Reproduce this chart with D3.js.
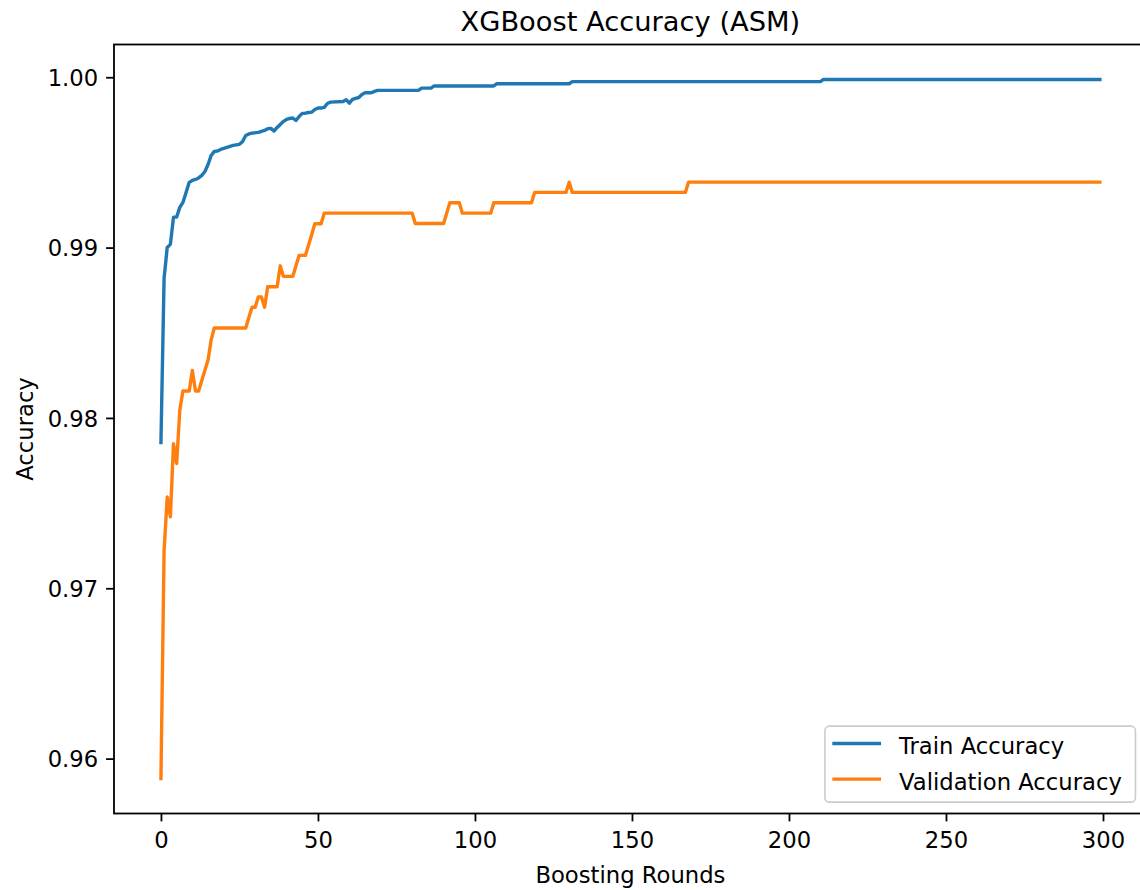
<!DOCTYPE html>
<html>
<head>
<meta charset="utf-8">
<script src="https://cdn.jsdelivr.net/npm/d3@7"></script>
<style>
	html, body { margin: 0; padding: 0; background: #fff; }
	svg { display: block; font-family: "DejaVu Sans", sans-serif; }
</style>
</head>
<body>
<div id="chart"></div>
<script>

// values (round, accuracy) — flat stretches kept by their end points
const trainRounds = [0,1,2,3,4,5,6,7,8,9,10,11,12,13,14,15,16,17,18,19,20,21,22,23,24,25,26,27,28,29,31,32,33,34,35,36,37,38,39,40,41,42,43,44,45,46,47,48,49,50,51,52,53,54,58,59,60,61,62,63,64,65,67,68,69,82,83,86,87,106,107,130,131,210,211,299];
const trainAccuracy = [0.97855,0.98820,0.99001,0.99019,0.99179,0.99179,0.99236,0.99265,0.99324,0.99383,0.99394,0.99400,0.99409,0.99424,0.99447,0.99488,0.99541,0.99565,0.99567,0.99576,0.99582,0.99588,0.99594,0.99600,0.99603,0.99606,0.99623,0.99658,0.99667,0.99672,0.99676,0.99682,0.99688,0.99698,0.99700,0.99684,0.99705,0.99723,0.99741,0.99752,0.99758,0.99761,0.99746,0.99770,0.99788,0.99789,0.99793,0.99795,0.99811,0.99819,0.99819,0.99823,0.99846,0.99854,0.99858,0.99868,0.99848,0.99870,0.99876,0.99881,0.99899,0.99909,0.99909,0.99917,0.99923,0.99923,0.99936,0.99936,0.99949,0.99949,0.99962,0.99962,0.99974,0.99974,0.99987,0.99987];

const valRounds = [0,1,2,3,4,5,6,7,9,10,11,12,13,14,15,16,17,27,28,29,30,31,32,33,34,37,38,39,42,43,44,46,47,48,49,51,52,80,81,90,91,92,95,96,105,106,118,119,129,130,131,167,168,299];
const valAccuracy = [0.95883,0.97220,0.97536,0.97419,0.97849,0.97732,0.98045,0.98158,0.98158,0.98279,0.98158,0.98158,0.98220,0.98280,0.98340,0.98460,0.98528,0.98528,0.98590,0.98650,0.98650,0.98710,0.98710,0.98650,0.98770,0.98770,0.98893,0.98831,0.98831,0.98893,0.98954,0.98954,0.99015,0.99076,0.99140,0.99140,0.99202,0.99202,0.99141,0.99141,0.99202,0.99263,0.99263,0.99202,0.99202,0.99263,0.99263,0.99324,0.99324,0.99384,0.99324,0.99324,0.99384,0.99384];

const numRounds = 300;
const xTicks = [0, 50, 100, 150, 200, 250, 300];
const yTicks = [0.96, 0.97, 0.98, 0.99, 1.00];

const seriesNames = ["Train Accuracy", "Validation Accuracy"];
const seriesColors = ["#1f77b4", "#ff7f0e"];

const TITLE = "XGBoost Accuracy (ASM)";
const X_LABEL = "Boosting Rounds";
const Y_LABEL = "Accuracy";

const WIDTH = 1140;
const HEIGHT = 890;
const FONT = 22.7;
const TICK_LEN = 7.9;
const TICK_PAD = 7.9;
const LINE_W = 3.4;

// axes box; the right spine falls just outside the picture, as in the original
const margin = { top: 44.5, left: 114, right: 1146.8, bottom: 813.5 };

const series = [
	{ name: seriesNames[0], color: seriesColors[0], data: trainRounds.map((r, i) => [r, trainAccuracy[i]]) },
	{ name: seriesNames[1], color: seriesColors[1], data: valRounds.map((r, i) => [r, valAccuracy[i]]) }
];

const svg = d3.select("#chart").append("svg")
	.attr("width", WIDTH)
	.attr("height", HEIGHT);

// matplotlib style 5% margins around the data
const xMax = numRounds - 1;
const allY = trainAccuracy.concat(valAccuracy);
const yMin = d3.min(allY), yMax = d3.max(allY);
const yPad = (yMax - yMin) * 0.05;

const x = d3.scaleLinear()
	.domain([-0.05 * xMax, xMax * 1.05])
	.range([margin.left, margin.right]);

const y = d3.scaleLinear()
	.domain([yMin - yPad, yMax + yPad])
	.range([margin.bottom, margin.top]);

const line = d3.line()
	.x(d => x(d[0]))
	.y(d => y(d[1]));

svg.append("g")
	.selectAll("path")
	.data(series)
	.enter()
	.append("path")
	.attr("d", d => line(d.data))
	.attr("fill", "none")
	.attr("stroke", d => d.color)
	.attr("stroke-width", LINE_W)
	.attr("stroke-linecap", "square")
	.attr("stroke-linejoin", "round");

// axes
const axisX = d3.axisBottom(x)
	.tickValues(xTicks)
	.tickSize(TICK_LEN)
	.tickPadding(TICK_PAD)
	.tickFormat(d3.format("d"));

const axisY = d3.axisLeft(y)
	.tickValues(yTicks)
	.tickSize(TICK_LEN)
	.tickPadding(TICK_PAD)
	.tickFormat(d3.format(".2f"));

const gx = svg.append("g")
	.attr("transform", `translate(0,${margin.bottom})`)
	.call(axisX);

const gy = svg.append("g")
	.attr("transform", `translate(${margin.left},0)`)
	.call(axisY);

[gx, gy].forEach(g => {
	g.select(".domain").remove();
	g.selectAll(".tick line").attr("stroke", "#000").attr("stroke-width", 1.8);
	g.selectAll(".tick text")
		.attr("fill", "#000")
		.style("font-size", FONT + "px")
		.style("font-family", "DejaVu Sans");
});
gx.selectAll(".tick text").attr("dy", null).attr("y", TICK_LEN + TICK_PAD + 18.7);
gy.selectAll(".tick text").attr("dy", "0.36em");

// frame
svg.append("rect")
	.attr("x", margin.left)
	.attr("y", margin.top)
	.attr("width", margin.right - margin.left)
	.attr("height", margin.bottom - margin.top)
	.attr("fill", "none")
	.attr("stroke", "#000")
	.attr("stroke-width", 1.8);

// texts
svg.append("text")
	.attr("x", (margin.left + margin.right) / 2)
	.attr("y", 31)
	.attr("text-anchor", "middle")
	.style("font-size", "27.3px")
	.text(TITLE);

svg.append("text")
	.attr("x", (margin.left + margin.right) / 2)
	.attr("y", 883)
	.attr("text-anchor", "middle")
	.style("font-size", FONT + "px")
	.text(X_LABEL);

svg.append("text")
	.attr("transform", `translate(33,${(margin.top + margin.bottom) / 2}) rotate(-90)`)
	.attr("text-anchor", "middle")
	.style("font-size", FONT + "px")
	.text(Y_LABEL);

// legend, lower right
const padL = 0.4 * FONT, padR = 0.6 * FONT, handleLen = 2 * FONT, textOffset = 65, axPad = 0.5 * FONT;
const legend = svg.append("g");
const frame = legend.append("rect");
const items = legend.selectAll("g.item")
	.data(series)
	.enter()
	.append("g")
	.attr("class", "item");

const labels = items.append("text")
	.style("font-size", FONT + "px")
	.attr("fill", "#000")
	.text(d => d.name);

let textW = d3.max(labels.nodes(), n => n.getComputedTextLength());
let boxW = padL + textOffset + textW + padR;
let boxH = 76;
let boxRight = margin.right - axPad;
let boxBottom = margin.bottom - axPad;
let boxLeft = boxRight - boxW;
let boxTop = boxBottom - boxH;

frame
	.attr("x", boxLeft)
	.attr("y", boxTop)
	.attr("width", boxW)
	.attr("height", boxH)
	.attr("rx", 4.5)
	.attr("fill", "#fff")
	.attr("fill-opacity", 0.8)
	.attr("stroke", "#cccccc")
	.attr("stroke-width", 1.6);

const rowY = [boxTop + 17.3, boxTop + 53];

items.append("line")
	.attr("x1", boxLeft + padL)
	.attr("x2", boxLeft + padL + handleLen)
	.attr("y1", (d, i) => rowY[i])
	.attr("y2", (d, i) => rowY[i])
	.attr("stroke", d => d.color)
	.attr("stroke-width", LINE_W)
	.attr("stroke-linecap", "square");

labels
	.attr("x", boxLeft + padL + textOffset)
	.attr("y", (d, i) => rowY[i] + 10.7);

</script>
</body>
</html>
